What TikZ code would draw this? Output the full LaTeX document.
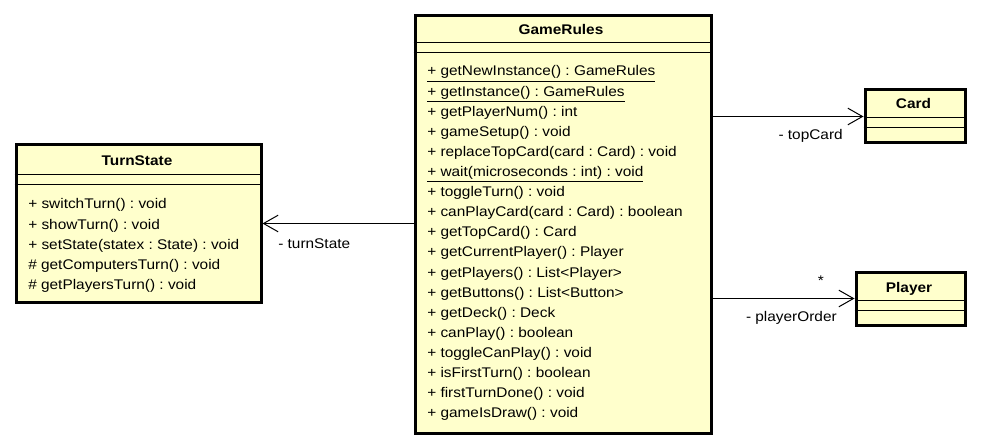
\documentclass[tikz,border=0pt]{standalone}
\usepackage{fontspec}
\setmainfont[FakeStretch=1.1]{Liberation Sans}
\usetikzlibrary{arrows.meta,calc}
\definecolor{classfill}{RGB}{255,255,204}
\frenchspacing

\begin{document}
\begin{tikzpicture}
[
x=0.75pt, y=-0.75pt,
classbox/.style={draw, line width=2.25pt, fill=classfill, rectangle, inner sep=0pt, anchor=north west},
classname/.style={font=\fontsize{10.5}{12}\selectfont\bfseries, anchor=base, inner sep=0pt},
member/.style={font=\fontsize{10.5}{12}\selectfont, anchor=base west, inner sep=0pt},
rolename/.style={font=\fontsize{10.5}{12}\selectfont, inner sep=0pt},
sepline/.style={line width=0.75pt},
assoc/.style={line width=0.75pt, -{Straight Barb[length=11pt,width=12.5pt,line width=0.75pt]}},
]
\useasboundingbox (0,0) rectangle (988,445);

\node[classbox, minimum width=222pt, minimum height=312.75pt] (gr) at (413.5,14.5) {};
\node[classname] (gr-name) at (561,35) {GameRules};
\draw[sepline] (413.5,43) -- (709.5,43);
\draw[sepline] (413.5,53) -- (709.5,53);
\foreach \txt [count=\i from 0] in {
  \underline{+ getNewInstance() : GameRules},
  \underline{+ getInstance() : GameRules},
  + getPlayerNum() : int,
  + gameSetup() : void,
  + replaceTopCard(card : Card) : void,
  \underline{+ wait(microseconds : int) : void},
  + toggleTurn() : void,
  + canPlayCard(card : Card) : boolean,
  + getTopCard() : Card,
  + getCurrentPlayer() : Player,
  + getPlayers() : List<Player>,
  + getButtons() : List<Button>,
  + getDeck() : Deck,
  + canPlay() : boolean,
  + toggleCanPlay() : void,
  + isFirstTurn() : boolean,
  + firstTurnDone() : void,
  + gameIsDraw() : void}
  \node[member] (gr-m\i) at (427,{76+20.1*\i}) {\txt};

\node[classbox, minimum width=183.75pt, minimum height=117.75pt] (ts) at (14.5,143.5) {};
\node[classname] (ts-name) at (137,166) {TurnState};
\draw[sepline] (14.5,175) -- (259.5,175);
\draw[sepline] (14.5,185) -- (259.5,185);
\foreach \txt [count=\i from 0] in {
  + switchTurn() : void,
  + showTurn() : void,
  + setState(statex : State) : void,
  \# getComputersTurn() : void,
  \# getPlayersTurn() : void}
  \node[member] (ts-m\i) at (28,{209+20*\i}) {\txt};

\node[classbox, minimum width=75pt, minimum height=39.75pt] (card) at (863.5,88.5) {};
\node[classname] (card-name) at (913.5,109) {Card};
\draw[sepline] (863.5,118) -- (963.5,118);
\draw[sepline] (863.5,128) -- (963.5,128);

\node[classbox, minimum width=81.75pt, minimum height=39.75pt] (pl) at (854.5,270.5) {};
\node[classname] (pl-name) at (909,292) {Player};
\draw[sepline] (854.5,300) -- (963.5,300);
\draw[sepline] (854.5,310) -- (963.5,310);

\draw[assoc] (gr.east |- card.west) -- (card.west);
\draw[assoc] (gr.east |- pl.west) -- (pl.west);
\draw[assoc] (gr.west |- ts.east) -- (ts.east);

\node[rolename, anchor=base east] (topcard) at (843,140) {- topCard};
\node[rolename, anchor=base east] (playerorder) at (837,321) {- playerOrder};
\node[rolename, anchor=base east] (mult) at (824,285) {*};
\node[rolename, anchor=base west] (turnstate) at (278,248) {- turnState};
\end{tikzpicture}
\end{document}
